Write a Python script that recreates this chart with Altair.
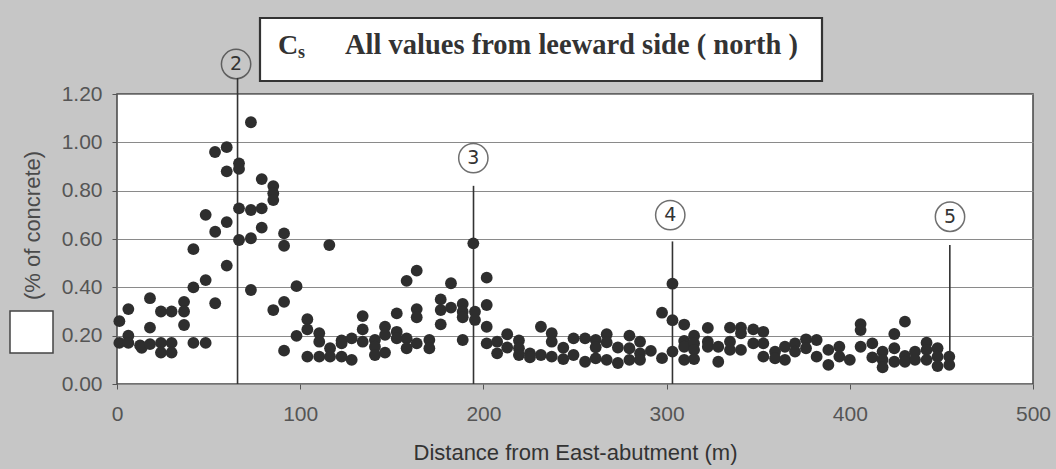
import altair as alt
import pandas as pd

# ---- data ----
dist = [
    1.3, 1.3, 6.2, 6.2, 6.2, 12.6, 13.5, 18, 18, 18, 24, 24, 24, 29.8, 29.8, 29.8,
    36.6, 36.6, 36.6, 41.7, 41.7, 41.7, 48.4, 48.4, 48.4, 53.5, 53.6, 53.6,
    59.9, 59.9, 59.9, 59.9, 66.6, 66.6, 66.6, 66.6, 73.1, 73.1, 73.1, 73.1,
    79, 79, 79, 85.3, 85.3, 85.3, 85.3, 91.2, 91.2, 91.2, 91.2, 98, 98,
    103.9, 103.9, 103.9, 110.4, 110.4, 110.4, 115.9, 116.3, 116.3, 122.6, 122.6, 122.6,
    128.1, 128.1, 134.1, 134.1, 134.1, 140.8, 140.8, 140.8, 146.3, 146.3, 146.3,
    152.7, 152.7, 152.7, 158.1, 158.1, 158.1, 163.6, 163.6, 163.6, 163.6, 170.5, 170.5,
    176.7, 176.7, 176.7, 182.3, 182.3, 188.7, 188.7, 188.7, 188.7, 194.5, 195.4, 195.4,
    201.8, 201.8, 201.8, 201.8, 207.5, 207.5, 213, 213, 219.4, 219.4, 219.4, 225.4, 225.4,
    231.4, 231.4, 237.3, 237.3, 237.3, 243.6, 243.6, 249.2, 249.2, 255.5, 255.5,
    261.3, 261.3, 261.3, 267.3, 267.3, 267.3, 273.4, 273.4, 279.7, 279.7, 279.7,
    285.5, 285.5, 285.5, 291.4, 297.5, 297.5,
    303.2, 303.2, 303.2, 309.6, 309.6, 309.6, 309.6, 315, 315, 315, 315, 322.5, 322.5, 322.5,
    328.2, 328.2, 334.6, 334.6, 334.6, 340.6, 340.6, 340.6, 347.3, 347.3, 352.8, 352.8, 352.8,
    359.2, 359.2, 364.6, 364.6, 370.1, 370.1, 376.1, 376.1, 381.9, 381.9, 388.3, 388.3,
    394.3, 394.3,
    400, 405.9, 405.9, 405.9, 412.3, 412.3, 417.9, 417.9, 417.9, 424.3, 424.3, 424.3,
    430.1, 430.1, 430.1, 435.6, 435.6, 441.9, 441.9, 441.9, 447.9, 447.9, 447.9, 454.3, 454.3,
]
cs = [
    0.26, 0.17, 0.31, 0.20, 0.17, 0.16, 0.15, 0.355, 0.233, 0.165, 0.30, 0.17, 0.13, 0.30, 0.17, 0.13,
    0.34, 0.30, 0.244, 0.558, 0.40, 0.17, 0.70, 0.43, 0.17, 0.96, 0.63, 0.334,
    0.98, 0.88, 0.67, 0.49, 0.913, 0.89, 0.727, 0.596, 1.083, 0.72, 0.603, 0.389,
    0.848, 0.727, 0.647, 0.819, 0.789, 0.761, 0.306, 0.623, 0.572, 0.34, 0.138, 0.405, 0.199,
    0.268, 0.226, 0.113, 0.21, 0.175, 0.113, 0.575, 0.148, 0.113, 0.18, 0.168, 0.113,
    0.189, 0.10, 0.281, 0.226, 0.175, 0.182, 0.154, 0.12, 0.237, 0.203, 0.13,
    0.292, 0.216, 0.189, 0.427, 0.189, 0.148, 0.469, 0.31, 0.276, 0.168, 0.182, 0.148,
    0.35, 0.306, 0.247, 0.417, 0.316, 0.331, 0.299, 0.276, 0.182, 0.582, 0.299, 0.265,
    0.44, 0.327, 0.237, 0.168, 0.175, 0.127, 0.206, 0.151, 0.18, 0.148, 0.12, 0.127, 0.11,
    0.237, 0.12, 0.21, 0.175, 0.113, 0.15, 0.103, 0.189, 0.12, 0.189, 0.092,
    0.182, 0.152, 0.106, 0.206, 0.172, 0.10, 0.151, 0.087, 0.20, 0.148, 0.10,
    0.175, 0.127, 0.10, 0.137, 0.295, 0.107,
    0.415, 0.264, 0.134, 0.246, 0.178, 0.154, 0.10, 0.2, 0.168, 0.141, 0.103, 0.232, 0.175, 0.154,
    0.154, 0.092, 0.233, 0.175, 0.141, 0.233, 0.21, 0.141, 0.226, 0.168, 0.216, 0.168, 0.113,
    0.134, 0.106, 0.154, 0.10, 0.168, 0.134, 0.185, 0.148, 0.182, 0.113, 0.141, 0.079,
    0.154, 0.113,
    0.10, 0.248, 0.223, 0.154, 0.168, 0.11, 0.134, 0.10, 0.069, 0.207, 0.148, 0.092,
    0.258, 0.116, 0.092, 0.134, 0.10, 0.171, 0.141, 0.10, 0.148, 0.113, 0.074, 0.113, 0.079,
]

# section markers (hand-drawn lines and circled numbers)
marker_label = ["2", "3", "4", "5"]
marker_x = [65.8, 194.6, 303.2, 454.6]
marker_y0 = [0.0, 0.0, 0.0, 0.10]
marker_y1 = [1.266, 0.82, 0.59, 0.575]
circle_x = [65.0, 194.5, 302.0, 454.7]
circle_y = [1.324, 0.935, 0.699, 0.692]

x_ticks = [0, 100, 200, 300, 400, 500]
y_ticks = [0.0, 0.2, 0.4, 0.6, 0.8, 1.0, 1.2]

title_sym = "C"
title_sub = "s"
title_text = "All values from leeward side ( north )"
x_title = "Distance from East-abutment (m)"
y_title = "(% of concrete)"

pts = pd.DataFrame({"dist": dist, "cs": cs})
marks = pd.DataFrame({"label": marker_label, "x": marker_x, "y0": marker_y0, "y1": marker_y1,
                      "cx": circle_x, "cy": circle_y})

xscale = alt.Scale(domain=[0, 500], nice=False, zero=False)
yscale = alt.Scale(domain=[0, 1.2], nice=False)

xaxis = alt.Axis(values=x_ticks, format="d", grid=False, domain=False, labelFlush=False,
                 labelFont="Liberation Sans", labelFontSize=21, labelColor="#555",
                 tickSize=5, tickColor="#555", labelPadding=14,
                 title=x_title, titleFont="Liberation Sans", titleFontSize=22,
                 titleFontWeight="normal", titleColor="#333",
                 titleX=458, titleY=68, titleBaseline="middle", titleAlign="center")
yaxis = alt.Axis(values=y_ticks, format=".2f", grid=True, gridColor="#8a8a8a", gridWidth=1.2,
                 domain=False, labelFlush=False,
                 labelFont="Liberation Sans", labelFontSize=21, labelColor="#555",
                 tickSize=5, tickColor="#555", labelPadding=10,
                 title=y_title, titleFont="Liberation Sans", titleFontSize=22,
                 titleFontWeight="normal", titleColor="#4a4a4a",
                 titleX=-85, titleY=131, titleAngle=-90,
                 titleBaseline="middle", titleAlign="center")

points = alt.Chart(pts).mark_circle(size=140, color="#2e2e2e", opacity=1).encode(
    x=alt.X("dist:Q", scale=xscale, axis=xaxis),
    y=alt.Y("cs:Q", scale=yscale, axis=yaxis),
)

rules = alt.Chart(marks).mark_rule(color="#333", strokeWidth=1.6).encode(
    x=alt.X("x:Q", scale=xscale),
    y=alt.Y("y0:Q", scale=yscale),
    y2="y1:Q",
)

rings = alt.Chart(marks).mark_point(shape="circle", filled=False, size=860,
                                    color="#333", strokeWidth=1.5).encode(
    x=alt.X("cx:Q", scale=xscale),
    y=alt.Y("cy:Q", scale=yscale),
)

ring_text = alt.Chart(marks).mark_text(font="DejaVu Sans", fontSize=19, color="#333",
                                       baseline="middle", align="center").encode(
    x=alt.X("cx:Q", scale=xscale),
    y=alt.Y("cy:Q", scale=yscale),
    text="label:N",
)

one = pd.DataFrame({"a": [0]})

title_box = alt.Chart(one).mark_rect(fill="white", stroke="#333", strokeWidth=2.2).encode(
    x=alt.value(143), x2=alt.value(705), y=alt.value(-76), y2=alt.value(-13))

t_sym = alt.Chart(one).mark_text(text=title_sym, font="Liberation Serif", fontWeight="bold",
                                 fontSize=28, color="#333", align="left",
                                 baseline="alphabetic").encode(
    x=alt.value(161), y=alt.value(-40))
t_sub = alt.Chart(one).mark_text(text=title_sub, font="Liberation Serif", fontWeight="bold",
                                 fontSize=18, color="#333", align="left",
                                 baseline="alphabetic").encode(
    x=alt.value(181), y=alt.value(-36))
t_main = alt.Chart(one).mark_text(text=title_text, font="Liberation Serif", fontWeight="bold",
                                  fontSize=28.5, color="#333", align="left",
                                  baseline="alphabetic").encode(
    x=alt.value(228), y=alt.value(-40))

white_sq = alt.Chart(one).mark_rect(fill="white", stroke="#444", strokeWidth=1.5).encode(
    x=alt.value(-107), x2=alt.value(-64), y=alt.value(217), y2=alt.value(259))

chart = alt.layer(
    title_box, t_sym, t_sub, t_main, white_sq, rules, points, rings, ring_text
).properties(
    width=916, height=290,
    padding={"left": 117, "top": 94, "right": 23, "bottom": 85},
    autosize="none",
    background="#c6c6c6",
).configure_view(
    fill="white", stroke="#444", strokeWidth=1.5,
)

chart.save("out.html", embed_options={"renderer": "svg", "actions": False})
